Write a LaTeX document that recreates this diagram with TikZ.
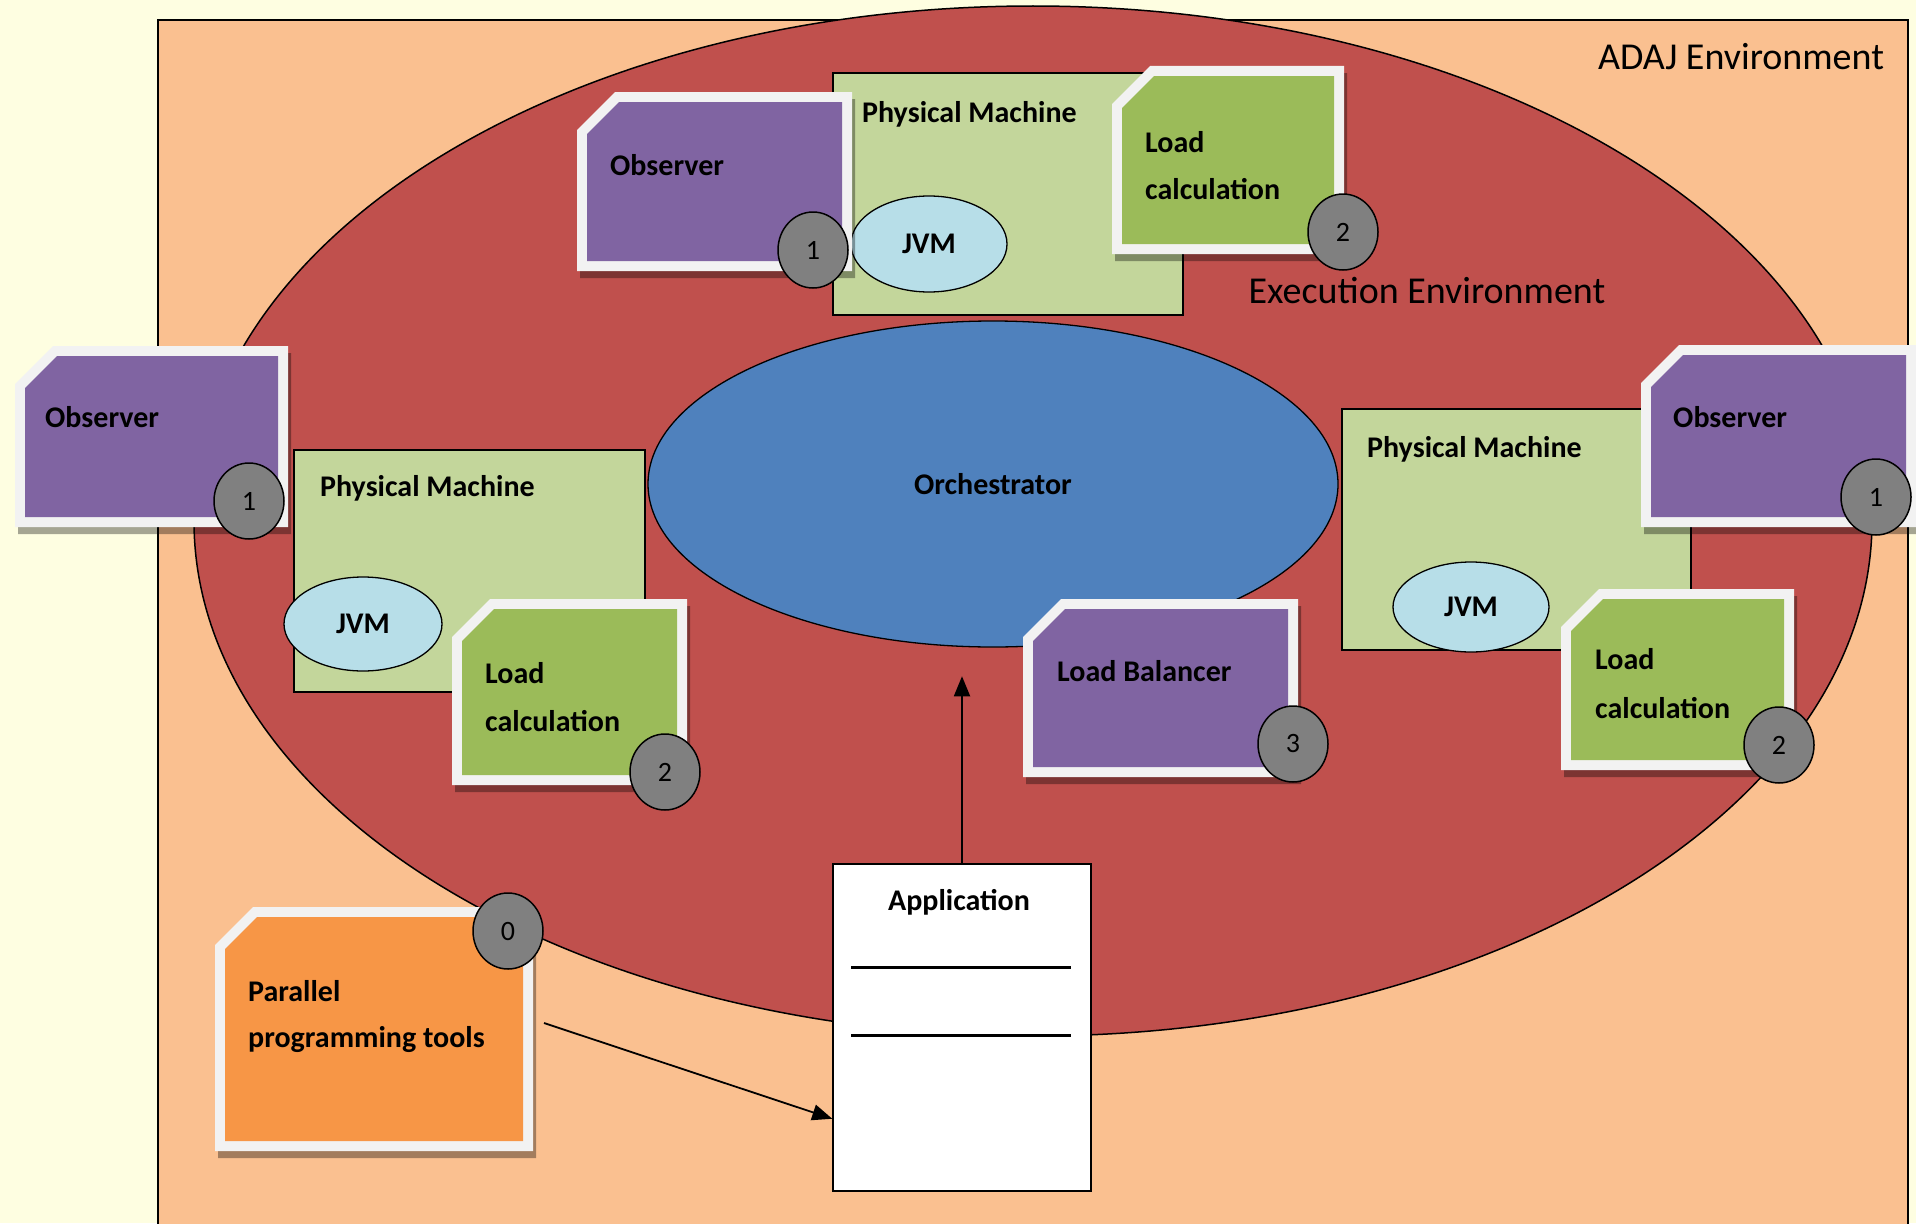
\documentclass[tikz,border=0pt]{standalone}
\usepackage{fontspec}
\setmainfont{Carlito}
\usetikzlibrary{arrows.meta,calc,shapes.geometric}
\definecolor{bgy}{HTML}{FEFEE1}
\definecolor{peach}{HTML}{FAC090}
\definecolor{redc}{HTML}{C0504D}
\definecolor{bluec}{HTML}{4F81BD}
\definecolor{pmg}{HTML}{C3D69B}
\definecolor{jvmc}{HTML}{B7DEE8}
\definecolor{purp}{HTML}{8064A2}
\definecolor{lcg}{HTML}{9BBB59}
\definecolor{orng}{HTML}{F79646}
\definecolor{framec}{HTML}{F2F2F2}
\definecolor{badgec}{HTML}{808080}

% note shape: x1,y1,x2,y2,color
\newcommand\notebox[5]{%
  \fill[black,opacity=.35] (#1+3,#2+45) -- (#1+41,#2+7) -- (#3+3,#2+7) -- (#3+3,#4+7) -- (#1+3,#4+7) -- cycle;
  \fill[framec] (#1+38,#2) -- (#3,#2) -- (#3,#4) -- (#1,#4) -- (#1,#2+38) -- cycle;
  \fill[#5] (#1+42,#2+10) -- (#3-10,#2+10) -- (#3-10,#4-10) -- (#1+10,#4-10) -- (#1+10,#2+42) -- cycle;
}

\tikzset{
  pmbox/.style={rectangle, draw=black, line width=1.5pt, fill=pmg, inner sep=0},
  jvm/.style={ellipse, draw=black, line width=1.3pt, fill=jvmc, inner sep=0,
    minimum width=156, minimum height=96, font=\bfseries\fontsize{30}{36}\selectfont},
  badge/.style={ellipse, draw=black, line width=1.5pt, fill=badgec, inner sep=0,
    minimum width=70, minimum height=76, font=\fontsize{28}{32}\selectfont},
  lbl/.style={inner sep=0, anchor=base west, font=\bfseries\fontsize{30}{36}\selectfont},
  envlbl/.style={inner sep=0, font=\fontsize{38}{44}\selectfont},
  arr/.style={line width=1.8pt, -{Triangle[length=20pt,width=16pt]}},
}

\begin{document}
\begin{tikzpicture}[x=1pt,y=-1pt]
\useasboundingbox (0,0) rectangle (1916,1223);
\fill[bgy] (0,0) rectangle (1916,1223);

% ADAJ environment
\draw[fill=peach, line width=2pt] (158,20) rectangle (1908,1260);
\node[envlbl] (adaj) at (1741,57) {ADAJ Environment};

% execution environment
\draw[fill=redc, line width=1.5pt] (1033,521) ellipse [x radius=839, y radius=515];
\node[envlbl] (exec) at (1427,290) {Execution Environment};

% orchestrator
\node[ellipse, draw=black, line width=1.3pt, fill=bluec, minimum width=690, minimum height=326,
  font=\bfseries\fontsize{30}{36}\selectfont] (orch) at (993,484) {Orchestrator};

% physical machines
\node[pmbox, minimum width=350, minimum height=242] (pmT) at (1008,194) {};
\node[pmbox, minimum width=351, minimum height=242] (pmL) at (469.5,571) {};
\node[pmbox, minimum width=349, minimum height=241] (pmR) at (1516.5,529.5) {};
\node[lbl] (pmTl) at (862,122) {Physical Machine};
\node[lbl] (pmLl) at (320,496) {Physical Machine};
\node[lbl] (pmRl) at (1367,457) {Physical Machine};

% JVMs
\node[jvm] (jvmT) at (929,244) {JVM};
\node[jvm, minimum width=158, minimum height=94] (jvmL) at (363,624) {JVM};
\node[jvm, minimum width=156, minimum height=90] (jvmR) at (1471,607) {JVM};

% notes
\notebox{577}{92}{852}{271}{purp}
\node[lbl] (obsT) at (610,175) {Observer};
\notebox{1112}{66}{1344}{254}{lcg}
\node[lbl] (lcTa) at (1145,152) {Load};
\node[lbl] (lcTb) at (1145,199) {calculation};

\notebox{15}{346}{288}{527}{purp}
\node[lbl] (obsL) at (45,427) {Observer};
\notebox{452}{599}{687}{785}{lcg}
\node[lbl] (lcLa) at (485,683) {Load};
\node[lbl] (lcLb) at (485,731) {calculation};

\notebox{1641}{345}{1916}{527}{purp}
\node[lbl] (obsR) at (1673,427) {Observer};
\notebox{1561}{589}{1794}{770}{lcg}
\node[lbl] (lcRa) at (1595,669) {Load};
\node[lbl] (lcRb) at (1595,718) {calculation};

\notebox{1023}{599}{1298}{777}{purp}
\node[lbl] (lb) at (1057,681) {Load Balancer};

\notebox{215}{907}{533}{1151}{orng}
\node[lbl] (pptA) at (248,1001) {Parallel};
\node[lbl] (pptB) at (248,1047) {programming tools};

% badges
\node[badge] (bT1) at (813,250) {1};
\node[badge] (bT2) at (1343,232) {2};
\node[badge] (bL1) at (249,501) {1};
\node[badge] (bL2) at (665,772) {2};
\node[badge] (bR1) at (1876,497) {1};
\node[badge] (bR2) at (1779,745) {2};
\node[badge] (b3) at (1293,744) {3};
\node[badge] (b0) at (508,931) {0};

% application
\node[rectangle, draw=black, line width=1.5pt, fill=white, minimum width=258, minimum height=327,
  inner sep=0] (app) at (962,1027.5) {};
\node[inner sep=0, font=\bfseries\fontsize{30}{36}\selectfont] (appl) at (959,902) {Application};
\draw[line width=3.5pt] ($(app.north west)+(19,104)$) -- ($(app.north east)+(-21,104)$);
\draw[line width=3.5pt] ($(app.north west)+(19,172)$) -- ($(app.north east)+(-21,172)$);

% connectors
\coordinate (tipO) at ($(app.north)+(0,-187)$);
\draw[arr] (app.north) -- (tipO);
\coordinate (pptTail) at (544,1023);
\draw[arr] (pptTail) -- ($(app.south west)+(0,-73)$);
\end{tikzpicture}
\end{document}
